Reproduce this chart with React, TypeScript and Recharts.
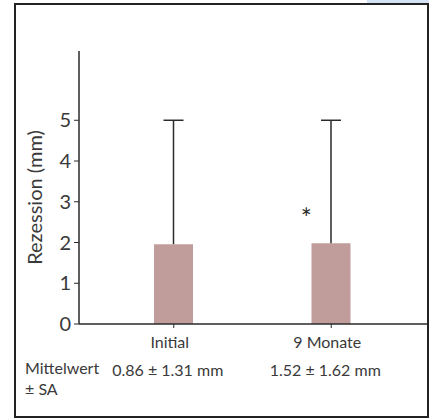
import React from "react";
import {
  ComposedChart,
  Bar,
  XAxis,
  YAxis,
  ReferenceDot,
} from "recharts";

const categories = ["Initial", "9 Monate"];
const barValues = [1.96, 1.98];
const upperLimits = [5, 5];
const statsLabels = ["0.86 ± 1.31 mm", "1.52 ± 1.62 mm"];
const yTicks = [0, 1, 2, 3, 4, 5];
const asterisk = { category: "9 Monate", value: 2.7 };

const data = categories.map((name, i) => ({
  name,
  mean: barValues[i],
  whisker: upperLimits[i] - barValues[i],
  stats: statsLabels[i],
}));

const FONT = "Lato, 'Noto Sans', sans-serif";
const TEXT = "#3a3a3a";
const LINE = "#2a2a2a";

function Whisker(props: any) {
  const { x, y, width, height } = props;
  if (height == null) return null;
  const cx = x + width / 2;
  return (
    <g>
      <line x1={cx} y1={y} x2={cx} y2={y + height} stroke={LINE} strokeWidth={1.5} />
      <line x1={cx - 10} y1={y} x2={cx + 10} y2={y} stroke={LINE} strokeWidth={1.5} />
    </g>
  );
}

function CategoryTick(props: any) {
  const { x, y, payload, index } = props;
  return (
    <g>
      <text
        x={x - 4}
        y={y + 18}
        textAnchor="middle"
        fontSize={16}
        fontFamily={FONT}
        fill={TEXT}
      >
        {payload.value}
      </text>
      <text
        x={x - 6}
        y={y + 46}
        textAnchor="middle"
        fontSize={16}
        fontFamily={FONT}
        fill={TEXT}
      >
        {statsLabels[index]}
      </text>
    </g>
  );
}

function YLabel(props: any) {
  const { viewBox } = props;
  const cx = 34;
  const cy = viewBox.y + viewBox.height / 2 + 10;
  return (
    <text
      x={cx}
      y={cy}
      transform={`rotate(-90 ${cx} ${cy})`}
      textAnchor="middle"
      dominantBaseline="central"
      fontSize={20}
      fontFamily={FONT}
      fill={TEXT}
    >
      Rezession (mm)
    </text>
  );
}

function Star(props: any) {
  const { cx, cy } = props;
  return (
    <text
      x={cx - 25}
      y={cy + 14}
      textAnchor="middle"
      fontSize={26}
      fontFamily={FONT}
      fill={LINE}
    >
      *
    </text>
  );
}

export default function App() {
  return (
    <div
      style={{
        position: "absolute",
        left: 0,
        top: 0,
        width: 429,
        height: 419,
        background: "#fff",
        fontFamily: FONT,
      }}
    >
      <div
        style={{
          position: "absolute",
          left: 367,
          top: 0,
          width: 62,
          height: 3,
          background: "#d3e3f3",
        }}
      />
      <div
        style={{
          position: "absolute",
          left: 14,
          top: 3,
          width: 415,
          height: 415,
          boxSizing: "border-box",
          border: "2px solid #222",
        }}
      />
      <div style={{ position: "absolute", left: 0, top: 0 }}>
        <ComposedChart
          width={429}
          height={419}
          data={data}
          margin={{ top: 51, right: 2, bottom: 65, left: 0 }}
          barCategoryGap={0}
        >
          <XAxis
            dataKey="name"
            height={30}
            padding={{ left: 16, right: 17 }}
            axisLine={{ stroke: LINE, strokeWidth: 1.5 }}
            tickLine={{ stroke: LINE }}
            tickSize={4}
            tick={<CategoryTick />}
            interval={0}
          />
          <YAxis
            width={79}
            domain={[0, 6.7]}
            ticks={yTicks}
            axisLine={{ stroke: LINE, strokeWidth: 1.5 }}
            tickLine={{ stroke: LINE }}
            tickSize={5}
            tickMargin={3}
            tick={{ fontSize: 20, fontFamily: FONT, fill: TEXT }}
            label={<YLabel />}
          />
          <Bar
            dataKey="mean"
            stackId="a"
            fill="#c09c9b"
            barSize={39}
            isAnimationActive={false}
          />
          <Bar
            dataKey="whisker"
            stackId="a"
            barSize={39}
            shape={<Whisker />}
            isAnimationActive={false}
          />
          <ReferenceDot
            x={asterisk.category}
            y={asterisk.value}
            r={0}
            shape={<Star />}
          />
        </ComposedChart>
      </div>
      <div
        style={{
          position: "absolute",
          left: 25,
          top: 357,
          fontSize: 16,
          lineHeight: "21px",
          color: TEXT,
        }}
      >
        Mittelwert
        <br />± SA
      </div>
    </div>
  );
}
